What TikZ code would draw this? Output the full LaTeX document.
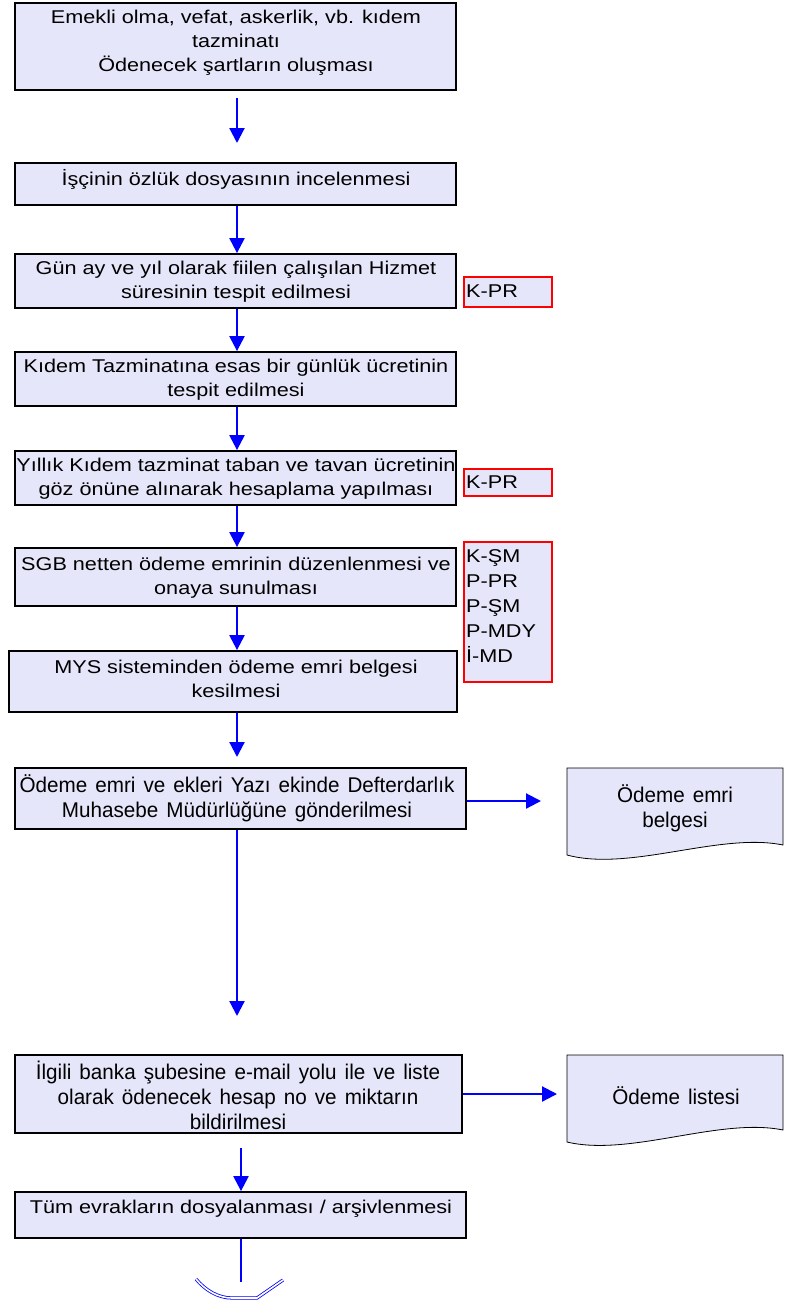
\documentclass[tikz,border=0pt]{standalone}
\usepackage{fontspec}
\setmainfont{Liberation Sans}
\newfontfamily\widefont{Liberation Sans}[FakeStretch=1.17]
\newfontfamily\narrowfont{Liberation Sans}[FakeStretch=0.97,WordSpace=1.4]
\usetikzlibrary{arrows.meta}
\definecolor{boxfill}{RGB}{230,230,250}
\definecolor{flowblue}{RGB}{0,0,255}
\tikzset{
  procbox/.style={draw=black, line width=1.8pt, fill=boxfill, inner sep=0pt},
  refbox/.style={draw=red, line width=1.2pt, fill=boxfill, inner sep=0pt},
  docbox/.style={draw=black, line width=0.8pt, fill=boxfill},
  txt/.style={inner sep=0pt, align=center, font=\widefont\fontsize{18.5}{24}\selectfont},
  ntxt/.style={inner sep=0pt, align=center, font=\narrowfont\fontsize{21.3}{25}\selectfont},
  reftxt/.style={inner sep=0pt, align=left, anchor=north west, font=\widefont\fontsize{18.5}{25}\selectfont},
  flow/.style={draw=flowblue, line width=2.2pt, -{Triangle[width=15pt,length=15pt]}},
  flowline/.style={draw=flowblue, line width=2pt},
  endmark/.style={draw=flowblue, line width=0.8pt, double=white, double distance=1.6pt},
}
\begin{document}
\begin{tikzpicture}[x=1pt,y=-1pt]
\useasboundingbox (0,0) rectangle (792,1301);
\fill[white] (0,0) rectangle (792,1301);

% process boxes
\node[procbox, minimum width=441pt, minimum height=87pt] (b1) at (235.5,46.5) {};
\node[txt] (t1) at (236,43) {Emekli olma, vefat, askerlik, vb. kıdem\\tazminatı\\Ödenecek şartların oluşması};

\node[procbox, minimum width=441pt, minimum height=42pt] (b2) at (235.5,184) {};
\node[txt] (t2) at (236,179) {İşçinin özlük dosyasının incelenmesi};

\node[procbox, minimum width=441pt, minimum height=54pt] (b3) at (235.5,281) {};
\node[txt] (t3) at (236,282) {Gün ay ve yıl olarak fiilen çalışılan Hizmet\\süresinin tespit edilmesi};

\node[procbox, minimum width=441pt, minimum height=54pt] (b4) at (235.5,379) {};
\node[txt] (t4) at (236,380) {Kıdem Tazminatına esas bir günlük ücretinin\\tespit edilmesi};

\node[procbox, minimum width=441pt, minimum height=54pt] (b5) at (235.5,478) {};
\node[txt] (t5) at (236,479) {Yıllık Kıdem tazminat taban ve tavan ücretinin\\göz önüne alınarak hesaplama yapılması};

\node[procbox, minimum width=441pt, minimum height=58pt] (b6) at (235.5,577) {};
\node[txt] (t6) at (236,578) {SGB netten ödeme emrinin düzenlenmesi ve\\onaya sunulması};

\node[procbox, minimum width=448pt, minimum height=61pt] (b7) at (233,681.5) {};
\node[txt] (t7) at (236,679) {MYS sisteminden ödeme emri belgesi\\kesilmesi};

\node[procbox, minimum width=451pt, minimum height=61pt] (b8) at (240.5,798.5) {};
\node[ntxt] (t8) at (237,798) {Ödeme emri ve ekleri Yazı ekinde Defterdarlık\\Muhasebe Müdürlüğüne gönderilmesi};

\node[procbox, minimum width=447pt, minimum height=78pt] (b9) at (238.5,1094) {};
\node[ntxt] (t9) at (238,1095) {İlgili banka şubesine e-mail yolu ile ve liste\\olarak ödenecek hesap no ve miktarın\\bildirilmesi};

\node[procbox, minimum width=451pt, minimum height=46pt] (b10) at (240.5,1215) {};
\node[txt] (t10) at (241,1209) {Tüm evrakların dosyalanması / arşivlenmesi};

% reference boxes
\node[refbox, minimum width=88pt, minimum height=30pt] (r1) at (508,292) {};
\node[reftxt] (rt1) at (466,285) {K-PR};
\node[refbox, minimum width=88pt, minimum height=27pt] (r2) at (508,482.5) {};
\node[reftxt] (rt2) at (466,476) {K-PR};
\node[refbox, minimum width=88pt, minimum height=140pt] (r3) at (508,612) {};
\node[reftxt] (rt3) at (466,549) {K-ŞM\\P-PR\\P-ŞM\\P-MDY\\İ-MD};

% documents
\draw[docbox] (567,768) -- (783,768) -- (783,845) .. controls (720,832) and (630,872) .. (567,855) -- cycle;
\node[ntxt] (d1) at (675,808) {Ödeme emri\\belgesi};
\draw[docbox] (567,1055) -- (783,1055) -- (783,1130) .. controls (720,1117) and (630,1157) .. (567,1142) -- cycle;
\node[ntxt] (d2) at (676,1096) {Ödeme listesi};

% coordinates for free ends
\coordinate (a1s) at (237,98);
\coordinate (a1e) at (237,143);
\coordinate (a7e) at (237,757);
\coordinate (a8e) at (237,1016);
\coordinate (a9s) at (241,1148);
\coordinate (endc) at (241,1282);
\coordinate (d1in) at (541,801);
\coordinate (d2in) at (557,1094);

% connectors
\draw[flow] (a1s) -- (a1e);
\draw[flow] (b2.south -| a1s) -- (b3.north -| a1s);
\draw[flow] (b3.south -| a1s) -- (b4.north -| a1s);
\draw[flow] (b4.south -| a1s) -- (b5.north -| a1s);
\draw[flow] (b5.south -| a1s) -- (b6.north -| a1s);
\draw[flow] (b6.south -| a1s) -- (b7.north -| a1s);
\draw[flow] (b7.south -| a7e) -- (a7e);
\draw[flow] (b8.south -| a8e) -- (a8e);
\draw[flow] (b8.east |- d1in) -- (d1in);
\draw[flow] (b9.east |- d2in) -- (d2in);
\draw[flow] (a9s) -- (a9s |- b10.north);
\draw[flowline] (b10.south -| endc) -- (endc);
\draw[endmark] (196,1279) .. controls (205,1290) and (218,1298) .. (232,1298) -- (257,1298) -- (283,1280);
\end{tikzpicture}
\end{document}
